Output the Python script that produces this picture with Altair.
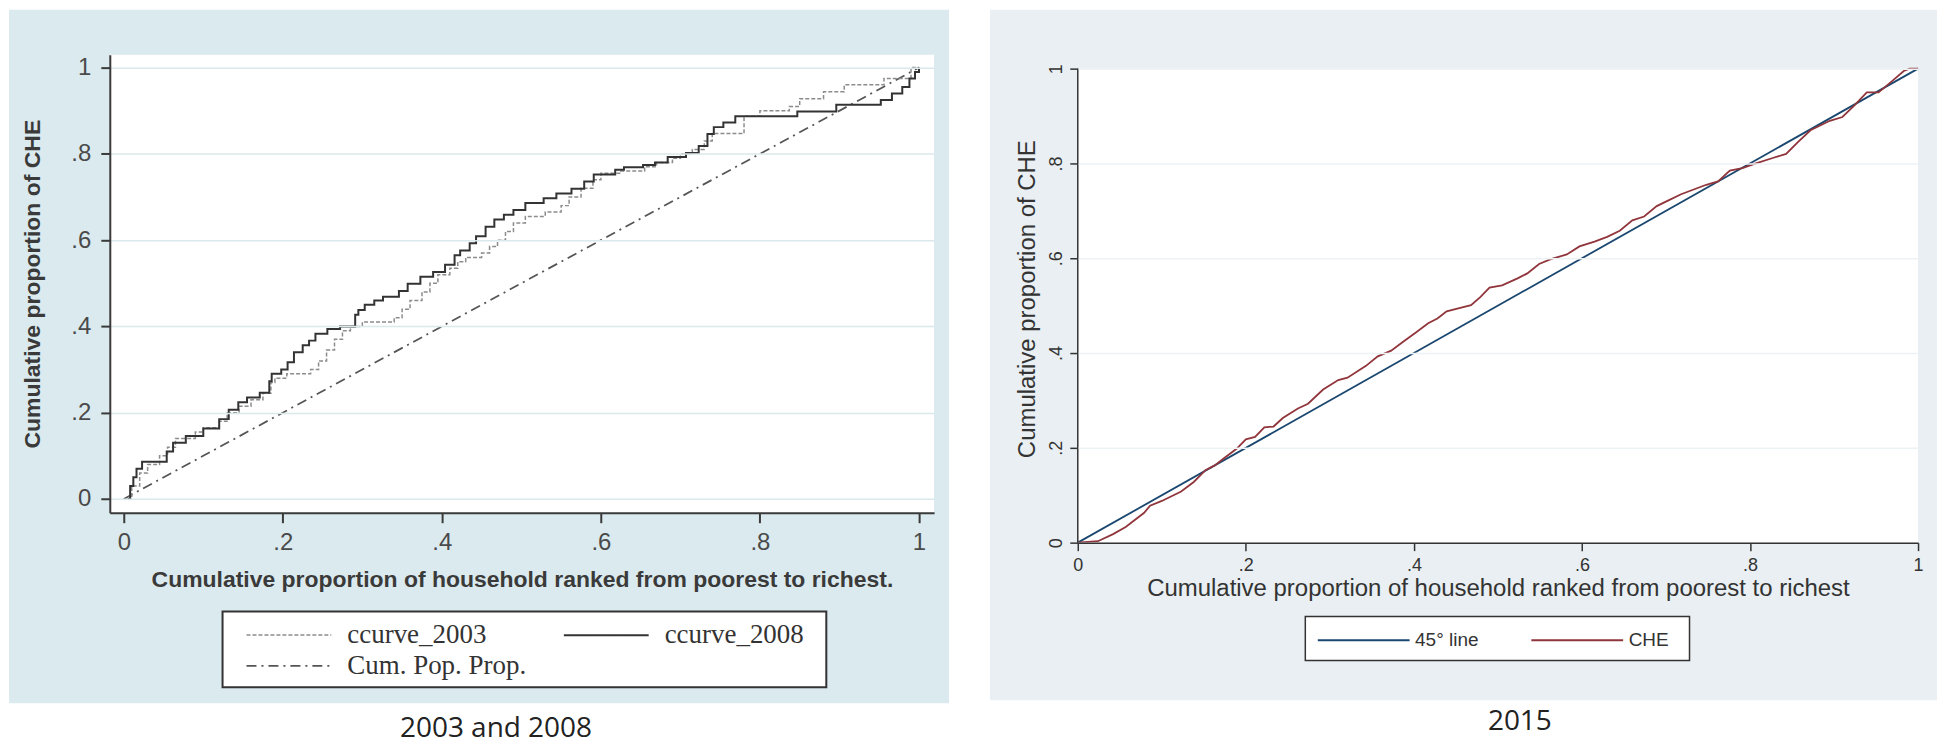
import altair as alt
import pandas as pd

# ---------------- data ----------------
ccurve_2003 = [(0.005, 0), (0.01, 0.03), (0.02, 0.06), (0.03, 0.08), (0.045, 0.10), (0.055, 0.12),
               (0.065, 0.14), (0.09, 0.155), (0.10, 0.165), (0.12, 0.18), (0.13, 0.20), (0.145, 0.215),
               (0.16, 0.23), (0.175, 0.245), (0.185, 0.27), (0.19, 0.28), (0.205, 0.29), (0.235, 0.30),
               (0.245, 0.32), (0.255, 0.345), (0.265, 0.37), (0.275, 0.39), (0.285, 0.40), (0.30, 0.41),
               (0.34, 0.42), (0.35, 0.44), (0.36, 0.46), (0.375, 0.48), (0.385, 0.50), (0.395, 0.52),
               (0.41, 0.535), (0.42, 0.55), (0.43, 0.56), (0.45, 0.57), (0.46, 0.585), (0.47, 0.60),
               (0.48, 0.62), (0.49, 0.64), (0.505, 0.655), (0.53, 0.665), (0.55, 0.68), (0.56, 0.70),
               (0.575, 0.72), (0.59, 0.74), (0.60, 0.755), (0.625, 0.76), (0.655, 0.77), (0.67, 0.78),
               (0.69, 0.79), (0.70, 0.80), (0.715, 0.81), (0.73, 0.83), (0.74, 0.847), (0.78, 0.887),
               (0.80, 0.90), (0.837, 0.91), (0.85, 0.928), (0.88, 0.944), (0.906, 0.96), (0.956, 0.975),
               (0.99, 1.0), (1.0, 1.0)]
ccurve_2008 = [(0.005, 0), (0.008, 0.03), (0.012, 0.05), (0.016, 0.07), (0.023, 0.086), (0.054, 0.11),
               (0.062, 0.13), (0.078, 0.146), (0.10, 0.163), (0.12, 0.185), (0.132, 0.207), (0.144, 0.224),
               (0.155, 0.235), (0.171, 0.246), (0.183, 0.273), (0.186, 0.29), (0.198, 0.30), (0.206, 0.317),
               (0.214, 0.34), (0.225, 0.356), (0.233, 0.367), (0.241, 0.383), (0.256, 0.394), (0.272, 0.40),
               (0.291, 0.427), (0.295, 0.438), (0.303, 0.45), (0.315, 0.46), (0.326, 0.469), (0.346, 0.482),
               (0.357, 0.499), (0.373, 0.515), (0.389, 0.526), (0.404, 0.543), (0.416, 0.565), (0.423, 0.576),
               (0.435, 0.593), (0.443, 0.609), (0.455, 0.631), (0.466, 0.648), (0.478, 0.659), (0.49, 0.67),
               (0.505, 0.686), (0.528, 0.697), (0.544, 0.708), (0.563, 0.719), (0.579, 0.736), (0.591, 0.752),
               (0.618, 0.763), (0.629, 0.769), (0.653, 0.774), (0.668, 0.78), (0.684, 0.793), (0.707, 0.802),
               (0.723, 0.818), (0.734, 0.846), (0.742, 0.862), (0.754, 0.873), (0.769, 0.887), (0.847, 0.898),
               (0.896, 0.914), (0.952, 0.925), (0.966, 0.94), (0.979, 0.955), (0.988, 0.975), (0.995, 0.99),
               (1.0, 1.0)]
cum_pop_prop = [(0.0, 0.0), (1.0, 1.0)]

che_2015 = [(0, 0), (0.024, 0.003), (0.042, 0.018), (0.057, 0.033), (0.079, 0.063), (0.086, 0.078),
            (0.10, 0.088), (0.123, 0.108), (0.138, 0.128), (0.152, 0.153), (0.163, 0.163), (0.174, 0.178),
            (0.189, 0.198), (0.20, 0.218), (0.211, 0.223), (0.222, 0.243), (0.233, 0.245), (0.244, 0.263),
            (0.262, 0.283), (0.274, 0.293), (0.292, 0.323), (0.31, 0.343), (0.321, 0.348), (0.343, 0.373),
            (0.357, 0.393), (0.373, 0.405), (0.388, 0.425), (0.402, 0.443), (0.417, 0.463), (0.428, 0.473),
            (0.439, 0.488), (0.454, 0.495), (0.468, 0.501), (0.479, 0.518), (0.49, 0.538), (0.505, 0.543),
            (0.524, 0.558), (0.535, 0.568), (0.549, 0.588), (0.563, 0.598), (0.582, 0.608), (0.597, 0.625),
            (0.615, 0.635), (0.63, 0.645), (0.645, 0.658), (0.66, 0.68), (0.674, 0.688), (0.689, 0.71),
            (0.703, 0.722), (0.718, 0.735), (0.733, 0.745), (0.748, 0.755), (0.762, 0.762), (0.776, 0.785),
            (0.791, 0.79), (0.807, 0.80), (0.828, 0.812), (0.843, 0.82), (0.857, 0.845), (0.872, 0.87),
            (0.895, 0.89), (0.91, 0.898), (0.924, 0.922), (0.939, 0.95), (0.953, 0.95), (0.968, 0.972),
            (0.983, 0.995), (0.99, 1.0), (1.0, 1.0)]
line_45 = [(0.0, 0.0), (1.0, 1.0)]

tick_values = [0, 0.2, 0.4, 0.6, 0.8, 1]
# legend fills column by column: this order gives rows "2003 | 2008" and "Cum. Pop. Prop."
left_series = ["ccurve_2003", "Cum. Pop. Prop.", "ccurve_2008"]
right_series = ["45° line", "CHE"]
captions = ["2003 and 2008", "2015"]
x_title_left = "Cumulative proportion of household ranked from poorest to richest."
x_title_right = "Cumulative proportion of household ranked from poorest to richest"
y_title = "Cumulative proportion of CHE"

label_expr = ("datum.value == 0 ? '0' : datum.value == 1 ? '1' : "
              "replace(format(datum.value, '.1f'), '0.', '.')")


def frame(points, name, key):
    return pd.DataFrame({"x": [p[0] for p in points], "y": [p[1] for p in points],
                         key: name, "order": list(range(len(points)))})


one = pd.DataFrame({"a": [0]})
SANS = "Liberation Sans"

# ---------------- left panel (2003 and 2008) ----------------
LW, LH = 826, 459
left_steps = pd.concat([frame(ccurve_2003, "ccurve_2003", "series"),
                        frame(ccurve_2008, "ccurve_2008", "series")])
left_diag = frame(cum_pop_prop, "Cum. Pop. Prop.", "series")

LX = alt.X("x:Q", scale=alt.Scale(domain=[-0.0176, 1.019], nice=False, zero=False),
           axis=alt.Axis(values=tick_values, labelExpr=label_expr, title=x_title_left, grid=False,
                         domainColor="#3a3a3a", domainWidth=2, tickColor="#3a3a3a", tickWidth=2,
                         tickSize=10, labelFont=SANS, labelFontSize=24, labelColor="#4a4a4a",
                         labelPadding=8, labelFlush=False, titleFont=SANS, titleFontSize=23,
                         titleFontWeight="bold", titleColor="#3a3a3a", titlePadding=14, zindex=1))
LY = alt.Y("y:Q", scale=alt.Scale(domain=[-0.032, 1.030], nice=False, zero=False),
           axis=alt.Axis(values=tick_values, labelExpr=label_expr, title=y_title, grid=True,
                         gridColor="#dbe8ec", gridWidth=1.5, domainColor="#3a3a3a", domainWidth=2,
                         tickColor="#3a3a3a", tickWidth=2, tickSize=9, labelFont=SANS,
                         labelFontSize=24, labelColor="#4a4a4a", labelPadding=10, labelFlush=False,
                         titleFont=SANS, titleFontSize=23, titleFontWeight="bold",
                         titleColor="#3a3a3a", titlePadding=26, zindex=1))

left_legend = alt.Legend(title=None, orient="none", legendX=164, legendY=566, columns=2,
                         symbolType="M-3,0L3,0", symbolSize=803, labelFont="Liberation Serif",
                         labelFontSize=27, labelColor="#333333", labelOffset=43, columnPadding=32,
                         rowPadding=2, padding=0, labelLimit=400, zindex=1)
lcolor = alt.Color("series:N", scale=alt.Scale(domain=left_series,
                                               range=["#8c8c8c", "#555555", "#333333"]),
                   legend=left_legend)
ldash = alt.StrokeDash("series:N", scale=alt.Scale(domain=left_series,
                                                   range=[[4, 2], [10, 5, 2, 5], [1, 0]]),
                       legend=left_legend)
lwidth = alt.StrokeWidth("series:N", scale=alt.Scale(domain=left_series, range=[1.5, 2, 2.5]),
                         legend=left_legend)

left_bg = alt.Chart(one).mark_rect(color="#dbeaef").encode(
    x=alt.value(-101), x2=alt.value(841), y=alt.value(-45), y2=alt.value(650))
left_plotbg = alt.Chart(one).mark_rect(color="white").encode(
    x=alt.value(0), x2=alt.value(LW), y=alt.value(0), y2=alt.value(LH))
left_legbox = alt.Chart(one).mark_rect(fill="white", stroke="#333333", strokeWidth=2).encode(
    x=alt.value(113), x2=alt.value(718), y=alt.value(558), y2=alt.value(634))
left_step_lines = alt.Chart(left_steps).mark_line(interpolate="step-after").encode(
    x=LX, y=LY, color=lcolor, strokeDash=ldash, strokeWidth=lwidth, order="order:Q")
left_diag_line = alt.Chart(left_diag).mark_line().encode(
    x=LX, y=LY, color=lcolor, strokeDash=ldash, strokeWidth=lwidth, order="order:Q")
left_caption = alt.Chart(pd.DataFrame({"t": [captions[0]]})).mark_text(
    font="Open Sans", fontSize=28, color="#222222", align="center", baseline="alphabetic").encode(
    x=alt.value(387), y=alt.value(684), text="t:N")

left = alt.layer(left_bg, left_plotbg, left_legbox, left_diag_line, left_step_lines,
                 left_caption).properties(width=LW, height=LH)

# ---------------- right panel (2015) ----------------
RW, RH = 842, 489
right_df = pd.concat([frame(line_45, right_series[0], "curve"),
                      frame(che_2015, right_series[1], "curve")])

RX = alt.X("x:Q", scale=alt.Scale(domain=[0, 1], nice=False, zero=False),
           axis=alt.Axis(values=tick_values, labelExpr=label_expr, title=x_title_right, grid=False,
                         domainColor="#333333", domainWidth=1.5, tickColor="#333333", tickWidth=1.5,
                         tickSize=8, labelFont=SANS, labelFontSize=18, labelColor="#333333",
                         labelPadding=6, labelFlush=False, titleFont=SANS, titleFontSize=24,
                         titleFontWeight="normal", titleColor="#333333", titlePadding=2, zindex=1))
RY = alt.Y("y:Q", scale=alt.Scale(domain=[0, 1.0295], nice=False, zero=False),
           axis=alt.Axis(values=tick_values, labelExpr=label_expr, title=y_title, grid=True,
                         gridColor="#edf2f5", gridWidth=1.5, domain=False, tickColor="#333333",
                         tickWidth=1.5, tickSize=8, labelFont=SANS, labelFontSize=18,
                         labelColor="#333333", labelAngle=270, labelAlign="center",
                         labelBaseline="bottom", labelPadding=4, labelFlush=False, titleFont=SANS,
                         titleFontSize=24, titleFontWeight="normal", titleColor="#333333",
                         titlePadding=8, zindex=1))

right_legend = alt.Legend(title=None, orient="none", legendX=270, legendY=570, columns=2,
                          symbolType="M-3,0L3,0", symbolSize=940, symbolStrokeWidth=2,
                          labelFont=SANS, labelFontSize=19, labelColor="#333333", labelOffset=35,
                          columnPadding=48, padding=0, labelLimit=300, zindex=1)
rcolor = alt.Color("curve:N", scale=alt.Scale(domain=right_series, range=["#1a476f", "#90353b"]),
                   legend=right_legend)

right_bg = alt.Chart(one).mark_rect(color="#e9eff2").encode(
    x=alt.value(-88), x2=alt.value(861), y=alt.value(-45), y2=alt.value(647))
right_plotbg = alt.Chart(one).mark_rect(color="white").encode(
    x=alt.value(0), x2=alt.value(RW), y=alt.value(14), y2=alt.value(RH))
right_yline = alt.Chart(one).mark_rule(color="#333333", strokeWidth=1.5).encode(
    x=alt.value(0), y=alt.value(14), y2=alt.value(RH))
right_legbox = alt.Chart(one).mark_rect(fill="white", stroke="#333333", strokeWidth=1.5).encode(
    x=alt.value(228), x2=alt.value(613), y=alt.value(563), y2=alt.value(607))
right_lines = alt.Chart(right_df).mark_line(strokeWidth=1.8).encode(
    x=RX, y=RY, color=rcolor, order="order:Q")
right_caption = alt.Chart(pd.DataFrame({"t": [captions[1]]})).mark_text(
    font="Open Sans", fontSize=28, color="#222222", align="center", baseline="alphabetic").encode(
    x=alt.value(443), y=alt.value(677), text="t:N")

right = alt.layer(right_bg, right_plotbg, right_legbox, right_lines, right_yline,
                  right_caption).properties(width=RW, height=RH)

chart = alt.hconcat(left, right, spacing=39).resolve_scale(
    color="independent", strokeDash="independent", strokeWidth="independent"
).resolve_legend(
    color="independent", strokeDash="independent", strokeWidth="independent"
).properties(
    padding=0, background="white"
).configure_view(stroke=None).configure(font=SANS)

chart.save("out.html", embed_options={"renderer": "svg", "actions": False})
